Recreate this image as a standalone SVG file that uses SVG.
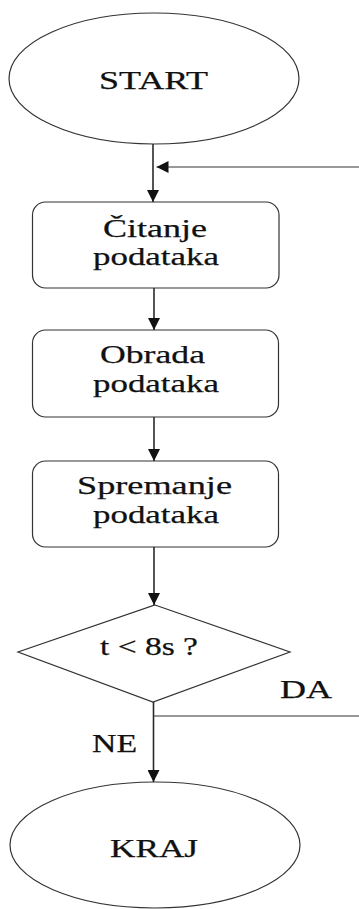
<svg xmlns="http://www.w3.org/2000/svg" width="359" height="909" viewBox="0 0 359 909">
<defs>
<style>
.shape{fill:#fff;stroke:#333;stroke-width:1.2}
.t{font-family:"Liberation Serif","Times New Roman",serif;font-size:25px;fill:#111;stroke:#111;stroke-width:0.25}
.c{fill:none;stroke:#2a2a2a;stroke-width:1.6}
.c2{fill:none;stroke:#333;stroke-width:1.1}
</style>
<marker id="ah" viewBox="0 0 13 12" markerWidth="13" markerHeight="12" refX="12" refY="6" orient="auto" markerUnits="userSpaceOnUse">
<path d="M0,0 L12,6 L0,12 Z" fill="#111"/>
</marker>
</defs>
<rect width="359" height="909" fill="#fff"/>
<g id="start">
<ellipse class="shape" cx="154" cy="78.5" rx="145" ry="65.5"/>
<text class="t" x="99" y="89" textLength="109" lengthAdjust="spacingAndGlyphs">START</text>
</g>
<g id="citanje">
<rect class="shape" x="32.5" y="202" width="246.5" height="86" rx="13"/>
<text class="t" x="103" y="237" textLength="104" lengthAdjust="spacingAndGlyphs">Čitanje</text>
<text class="t" x="93" y="265" textLength="126" lengthAdjust="spacingAndGlyphs">podataka</text>
</g>
<g id="obrada">
<rect class="shape" x="32.5" y="330" width="246" height="87" rx="13"/>
<text class="t" x="100" y="363" textLength="105" lengthAdjust="spacingAndGlyphs">Obrada</text>
<text class="t" x="93" y="392" textLength="126" lengthAdjust="spacingAndGlyphs">podataka</text>
</g>
<g id="spremanje">
<rect class="shape" x="32.5" y="461" width="246" height="86" rx="13"/>
<text class="t" x="77" y="494" textLength="155" lengthAdjust="spacingAndGlyphs">Spremanje</text>
<text class="t" x="93" y="523" textLength="126" lengthAdjust="spacingAndGlyphs">podataka</text>
</g>
<g id="decision">
<polygon class="shape" points="155,605 290,652 153,702 18,652"/>
<text class="t" x="100" y="655" textLength="98" lengthAdjust="spacingAndGlyphs">t &lt; 8s ?</text>
</g>
<g id="kraj">
<ellipse class="shape" cx="155" cy="845" rx="145" ry="63"/>
<text class="t" x="110" y="857" textLength="88" lengthAdjust="spacingAndGlyphs">KRAJ</text>
</g>
<g id="connectors">
<line class="c" x1="153" y1="144" x2="153" y2="202" marker-end="url(#ah)"/>
<line class="c2" x1="359" y1="167" x2="156.5" y2="167" marker-end="url(#ah)"/>
<line class="c" x1="154" y1="288" x2="154" y2="330" marker-end="url(#ah)"/>
<line class="c" x1="154" y1="417" x2="154" y2="461" marker-end="url(#ah)"/>
<line class="c" x1="154" y1="547" x2="154" y2="605" marker-end="url(#ah)"/>
<line class="c" x1="153.5" y1="702" x2="153.5" y2="782" marker-end="url(#ah)"/>
<line class="c2" x1="153.5" y1="716" x2="359" y2="716"/>
<text class="t" x="280" y="698" textLength="52" lengthAdjust="spacingAndGlyphs">DA</text>
<text class="t" x="92" y="752" textLength="45" lengthAdjust="spacingAndGlyphs">NE</text>
</g>
</svg>
